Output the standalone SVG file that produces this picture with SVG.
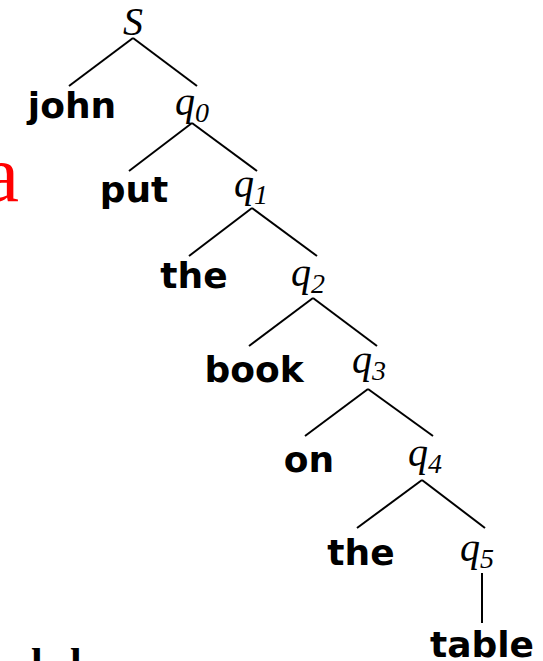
<svg xmlns="http://www.w3.org/2000/svg" width="543" height="661" viewBox="0 0 543 661">
<style>
.w{font-family:"DejaVu Sans","Verdana",sans-serif;font-weight:bold;font-size:36px;fill:#000;text-anchor:middle}
.q{font-family:"Liberation Serif","Times New Roman",serif;font-style:italic;font-size:40px;fill:#000}
.s{font-size:28px}
.e line{stroke:#000;stroke-width:2;stroke-linecap:butt}
</style>
<rect width="543" height="661" fill="#fff"/>
<text x="19" y="201" font-family="Liberation Serif, serif" font-size="80" fill="#ff0000" text-anchor="end">a</text>
<text font-family="Liberation Serif, serif" font-weight="bold" font-size="42" fill="#000"><tspan x="31" y="677">l</tspan><tspan x="70" y="677">l</tspan></text>
<g class="e" id="edges">
<line x1="133" y1="38" x2="69" y2="86"/>
<line x1="133" y1="38" x2="197" y2="86"/>
<line x1="192" y1="123" x2="129" y2="171"/>
<line x1="192" y1="123" x2="257" y2="171"/>
<line x1="252" y1="208" x2="189" y2="256"/>
<line x1="252" y1="208" x2="317" y2="256"/>
<line x1="313" y1="298" x2="249" y2="346"/>
<line x1="313" y1="298" x2="377" y2="346"/>
<line x1="368" y1="389" x2="305" y2="436"/>
<line x1="368" y1="389" x2="433" y2="436"/>
<line x1="422" y1="480" x2="357" y2="528"/>
<line x1="422" y1="480" x2="485" y2="528"/>
<line x1="482" y1="573" x2="482" y2="623"/>
</g>
<g id="S"><text class="q" x="133" y="35" text-anchor="middle">S</text></g>
<g id="john"><text class="w" x="72" y="118">john</text></g>
<g id="q0"><text class="q" x="175" y="115">q<tspan class="s" dy="7">0</tspan></text></g>
<g id="put"><text class="w" x="134" y="202">put</text></g>
<g id="q1"><text class="q" x="234" y="197">q<tspan class="s" dy="7">1</tspan></text></g>
<g id="the1"><text class="w" x="194" y="288">the</text></g>
<g id="q2"><text class="q" x="291" y="286">q<tspan class="s" dy="7">2</tspan></text></g>
<g id="book"><text class="w" x="254" y="382">book</text></g>
<g id="q3"><text class="q" x="352" y="373">q<tspan class="s" dy="7">3</tspan></text></g>
<g id="on"><text class="w" x="309" y="472">on</text></g>
<g id="q4"><text class="q" x="408" y="466">q<tspan class="s" dy="7">4</tspan></text></g>
<g id="the2"><text class="w" x="361" y="565">the</text></g>
<g id="q5"><text class="q" x="460" y="561">q<tspan class="s" dy="7">5</tspan></text></g>
<g id="table"><text class="w" x="482" y="657">table</text></g>
</svg>
